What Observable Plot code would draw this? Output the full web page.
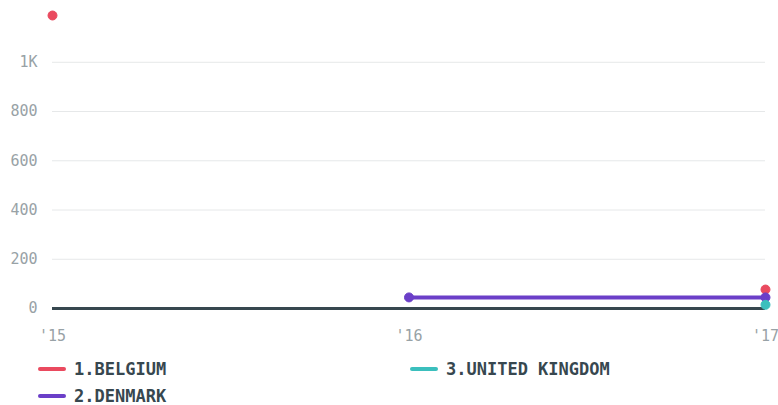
<!DOCTYPE html>
<html>
<head>
<meta charset="utf-8">
<script src="https://cdn.jsdelivr.net/npm/d3@7"></script>
<script src="https://cdn.jsdelivr.net/npm/@observablehq/plot@0.6"></script>
<style>
  html, body { margin: 0; padding: 0; background: #fff; }
  #chart { width: 778px; height: 350px; }
  #legend {
    display: grid;
    grid-template-columns: 372px 300px;
    grid-auto-flow: column;
    grid-template-rows: 27px 27px;
    margin-left: 38px;
    margin-top: 5px;
    font-family: "DejaVu Sans Mono", monospace;
    font-weight: bold;
    font-size: 17px;
    color: #37474f;
  }
  .item { display: flex; align-items: center; }
  .sw { width: 28px; height: 4px; border-radius: 2px; margin-right: 8px; }
</style>
</head>
<body>
<div id="chart"></div>
<div id="legend"></div>
<script>
const years = [2015, 2016, 2017];
const seriesNames = ["1.BELGIUM", "2.DENMARK", "3.UNITED KINGDOM"];
const seriesColors = ["#ea4a5f", "#6b3fc8", "#3bbfbd"];
const belgium = [1190, null, 77];
const denmark = [null, 45, 45];
const uk = [null, null, 15];
const yTicks = [0, 200, 400, 600, 800, 1000];
const yTickLabels = ["0", "200", "400", "600", "800", "1K"];

const allValues = [belgium, denmark, uk];
const rows = [];
seriesNames.forEach((name, i) => {
  years.forEach((yr, j) => {
    rows.push({series: name, year: yr, value: allValues[i][j]});
  });
});
const defined = rows.filter(d => d.value != null);

const chart = Plot.plot({
  width: 778,
  height: 350,
  marginLeft: 52,
  marginRight: 13,
  marginTop: 15,
  marginBottom: 42,
  style: {fontFamily: "DejaVu Sans Mono, monospace", fontSize: "15px", color: "#98a2a6", background: "#fff", overflow: "visible"},
  x: {domain: [2015, 2017], ticks: years, tickFormat: d => "'" + String(d).slice(2), label: null, tickSize: 0, tickPadding: 22},
  y: {domain: [0, 1190], ticks: yTicks, tickFormat: d => yTickLabels[yTicks.indexOf(d)], label: null, tickSize: 0, tickPadding: 15},
  color: {domain: seriesNames, range: seriesColors},
  marks: [
    Plot.gridY(yTicks.filter(t => t > 0), {stroke: "#e6e8e9", strokeOpacity: 1, strokeWidth: 1}),
    Plot.ruleY([0], {stroke: "#37474f", strokeWidth: 3}),
    Plot.line(rows, {x: "year", y: "value", z: "series", stroke: "series", strokeWidth: 4, curve: "linear"}),
    Plot.dot(defined, {x: "year", y: "value", fill: "series", stroke: "series", r: 4.5, strokeWidth: 1})
  ]
});
document.getElementById("chart").appendChild(chart);

const legend = document.getElementById("legend");
seriesNames.forEach((name, i) => {
  const item = document.createElement("div");
  item.className = "item";
  const sw = document.createElement("span");
  sw.className = "sw";
  sw.style.background = seriesColors[i];
  const label = document.createElement("span");
  label.textContent = name;
  item.appendChild(sw);
  item.appendChild(label);
  legend.appendChild(item);
});
</script>
</body>
</html>
